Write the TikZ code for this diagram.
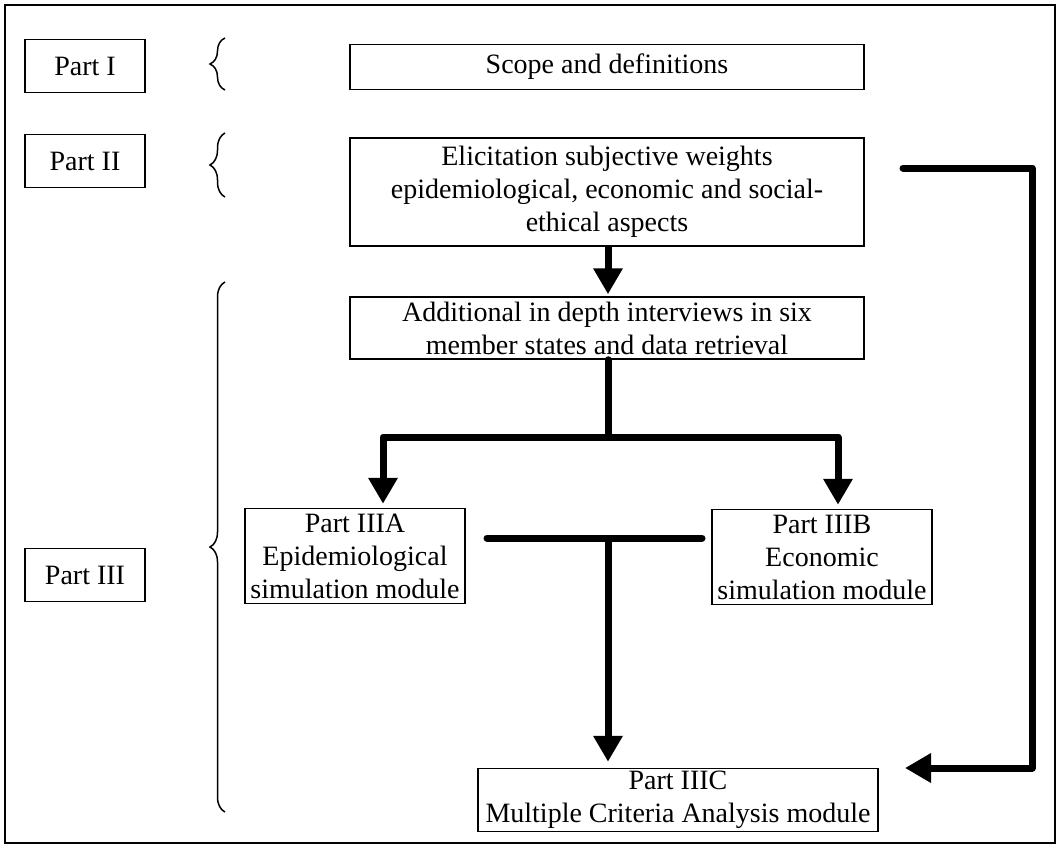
\documentclass[tikz,border=0pt]{standalone}
\usepackage{fontspec}
\setmainfont{Liberation Serif}
\usetikzlibrary{arrows.meta, positioning, decorations.pathreplacing}

\begin{document}
\begin{tikzpicture}[x=1pt, y=-1pt,
    box/.style={draw, line width=1.5pt, align=center, inner sep=0pt, font=\fontsize{28}{33}\selectfont},
    flow/.style={line width=7pt, line join=round, -{Triangle[width=28pt, length=26pt]}},
    bar/.style={line width=7pt, line cap=round, line join=round},
    curly/.style={line width=1.5pt, decorate, decoration={brace, amplitude=15pt}}]
    \useasboundingbox (0,0) rectangle (1061,847);
    \draw[line width=2pt] (5,5) rectangle (1055,843);
    % Nodes
    \node (partI) [box, minimum width=120pt, minimum height=53pt] at (85,66) {Part I};
    \node (partII) [box, minimum width=120pt, minimum height=53pt] at (85,161) {Part II};
    \node (partIII) [box, minimum width=120pt, minimum height=53pt] at (85,575) {Part III};
    \node (scope) [box, minimum width=514pt, minimum height=45pt] at (607,67) {Scope and definitions};
    \node (elic) [box, minimum width=514pt, minimum height=108pt] at (607,192) {Elicitation subjective weights\\epidemiological, economic and social-\\ethical aspects};
    \node (addl) [box, minimum width=514pt, minimum height=62pt] at (607,328) {Additional in depth interviews in six\\member states and data retrieval};
    \node (iiia) [box, minimum width=220pt, minimum height=95pt] at (355,556) {Part IIIA\\Epidemiological\\simulation module};
    \node (iiib) [box, minimum width=220pt, minimum height=95pt] at (822,557) {Part IIIB\\Economic\\simulation module};
    \node (iiic) [box, minimum width=400pt, minimum height=63pt] at (678,800) {Part IIIC\\Multiple Criteria Analysis module};
    % Braces
    \draw[curly] (225,90) -- (225,38);
    \draw[curly] (225,197) -- (225,133);
    \draw[curly] (225,812) -- (225,282);
    % Arrows
    \coordinate (spine) at (608,0);
    \coordinate (brL) at (383,437);
    \coordinate (brR) at (838,437);
    \coordinate (mgL) at (487,538);
    \coordinate (mgR) at (702,538);
    \coordinate (fbA) at (903,168);
    \coordinate (fbB) at (905,768);
    \draw[flow, shorten >=2pt] (elic.south -| spine) -- (addl.north -| spine);
    \draw[bar] (addl.south -| spine) -- (spine |- brL);
    \draw[flow, shorten >=4pt] (spine |- brL) -- (brL) -- (brL |- iiia.north);
    \draw[flow, shorten >=4pt] (spine |- brR) -- (brR) -- (brR |- iiib.north);
    \draw[bar] (mgL) -- (mgR);
    \draw[flow, shorten >=6pt] (spine |- mgL) -- (spine |- iiic.north);
    \draw[flow, line cap=round] (fbA) -- (fbA -| 1032,0) -- (fbB -| 1032,0) -- (fbB);
\end{tikzpicture}
\end{document}
